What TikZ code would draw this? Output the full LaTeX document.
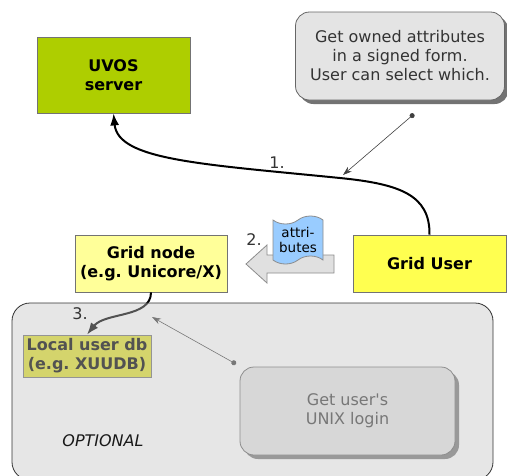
\documentclass[tikz,border=0pt]{standalone}
\usepackage{fontspec}
\setmainfont{DejaVu Sans}
\usetikzlibrary{shapes.symbols,shadows,arrows.meta}

\definecolor{uvosgreen}{HTML}{AECE00}
\definecolor{nodeyellow}{HTML}{FFFF99}
\definecolor{useryellow}{HTML}{FFFF50}
\definecolor{dbyellow}{HTML}{E0E02D}
\definecolor{attrblue}{HTML}{99CCFF}
\definecolor{notegray}{HTML}{E4E4E4}
\definecolor{panelgray}{HTML}{C4C4C4}

\newcommand{\boxfont}{\fontsize{16}{19}\selectfont}

\tikzset{
	hostbox/.style = {rectangle, draw = black!55, line width = 0.8pt,
					  inner sep = 0pt, align = center, font = \boxfont\bfseries},
	notebox/.style = {rectangle, rounded corners = 14pt, draw = black!60,
					  line width = 0.8pt, align = center, font = \boxfont,
					  drop shadow = {shadow xshift = 4pt, shadow yshift = -4pt,
									 fill = #1, opacity = 1}},
	stepnum/.style = {font = \boxfont, text = black!80},
	callflow/.style = {line width = 2pt, -{Latex[length = 12pt, width = 9pt]}},
	pointer/.style = {line width = 0.6pt, draw = black!75,
					  {Circle[length = 5pt]}-{Stealth[length = 9pt, width = 6pt]}}
}

\begin{document}
\frenchspacing
\begin{tikzpicture}[x = 1pt, y = -1pt]
	\useasboundingbox (0,0) rectangle (507,475);

	\draw (400,56) node[notebox = black!55, fill = notegray, text = black!80,
					 minimum width = 209pt, minimum height = 88pt](ask)
					 {Get owned attributes\\in a signed form.\\User can select which.};
	\draw (113.5,75) node[hostbox, fill = uvosgreen,
					 minimum width = 153pt, minimum height = 76pt](uvos) {UVOS\\server};
	\draw (151,263.5) node[hostbox, fill = nodeyellow,
					 minimum width = 152pt, minimum height = 57pt](gridnode)
					 {Grid node\\(e.g. Unicore/X)};
	\draw (429.5,263.5) node[hostbox, fill = useryellow,
					 minimum width = 153pt, minimum height = 57pt](griduser) {Grid User};
	\draw (87,356) node[hostbox, fill = dbyellow,
					 minimum width = 128pt, minimum height = 42pt](localdb)
					 {Local user db\\(e.g. XUUDB)};
	\draw (347.5,411) node[notebox = black!52, fill = black!10, text = black!75,
					 font = \boxfont\mdseries,
					 minimum width = 215pt, minimum height = 88pt](login)
					 {Get user\textquotesingle s\\UNIX login};

	% handing the attributes over
	\draw[fill = black!12, draw = black!45, line width = 0.8pt]
		(246,264) -- (267,245) -- (267,255) -- (334,255)
		-- (334,273) -- (267,273) -- (267,283) -- cycle;
	\draw (298,240) node[shape = tape, draw = black!45, fill = attrblue,
					 line width = 0.8pt, tape bend height = 8pt, inner sep = 0pt,
					 minimum width = 50pt, minimum height = 48pt, align = center,
					 font = \fontsize{13.5}{15}\selectfont](attrs) {attri-\\butes};

	\draw[callflow] (griduser.north) .. controls (430,195) and (400,184) .. (340,178)
		.. controls (200,164) and (118,160) .. (uvos.south);
	\draw[callflow] (gridnode.south) .. controls (151,318) and (105,312) .. (localdb.north);

	\coordinate (askpin) at (414,114);
	\coordinate (asktip) at (343,175);
	\coordinate (loginpin) at (236,364);
	\coordinate (logintip) at (152,317);
	\draw[pointer] (askpin) -- (asktip);
	\draw[pointer] (loginpin) -- (logintip);

	\draw (277,163) node[stepnum](one) {1.};
	\draw (254,240) node[stepnum](two) {2.};

	% optional part, laid over what it holds
	\draw (252.5,391.5) node[rectangle, rounded corners = 18pt, draw = black!80,
					 line width = 0.8pt, fill = panelgray, fill opacity = 0.42,
					 minimum width = 481pt, minimum height = 177pt](optional) {};
	\draw (80,314) node[stepnum](three) {3.};
	\draw (103,441) node[font = \boxfont\itshape, text = black!90](optlabel) {OPTIONAL};
\end{tikzpicture}
\end{document}
